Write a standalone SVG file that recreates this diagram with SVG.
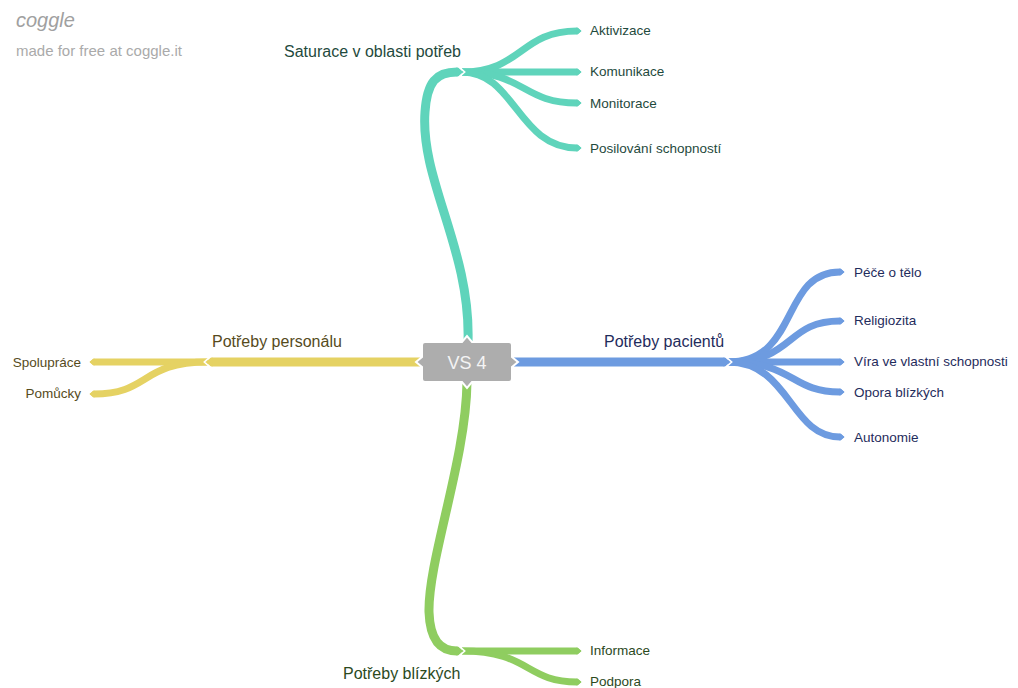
<svg xmlns="http://www.w3.org/2000/svg" width="1018" height="688" viewBox="0 0 1018 688">
  <style>
    .br { fill: none; stroke-linecap: butt; }
    .main { stroke-width: 9; }
    .sub { stroke-width: 7; }
    .teal { stroke: #5fd4bb; }
    .blue { stroke: #6d9be0; }
    .yellow { stroke: #e5d263; }
    .green { stroke: #8fcd60; }
    text { font-family: "Liberation Sans", Arial, sans-serif; }
    .leaf { font-size: 13.5px; }
    .lbl { font-size: 16px; }
  </style>
  <defs>
    <marker id="tip-teal" viewBox="0 -1 2 2" markerWidth="2" markerHeight="2" refX="0" refY="0" orient="auto" overflow="visible">
      <polygon points="-0.05,-0.5 0.15,-0.5 0.7,0 0.15,0.5 -0.05,0.5" fill="#5fd4bb"/>
      <polyline points="0.15,-0.62 0.85,0 0.15,0.62" fill="none" stroke="#fff" stroke-width="0.18"/>
    </marker>
    <marker id="tip-blue" viewBox="0 -1 2 2" markerWidth="2" markerHeight="2" refX="0" refY="0" orient="auto" overflow="visible">
      <polygon points="-0.05,-0.5 0.15,-0.5 0.7,0 0.15,0.5 -0.05,0.5" fill="#6d9be0"/>
      <polyline points="0.15,-0.62 0.85,0 0.15,0.62" fill="none" stroke="#fff" stroke-width="0.18"/>
    </marker>
    <marker id="tip-yellow" viewBox="0 -1 2 2" markerWidth="2" markerHeight="2" refX="0" refY="0" orient="auto" overflow="visible">
      <polygon points="-0.05,-0.5 0.15,-0.5 0.7,0 0.15,0.5 -0.05,0.5" fill="#e5d263"/>
      <polyline points="0.15,-0.62 0.85,0 0.15,0.62" fill="none" stroke="#fff" stroke-width="0.18"/>
    </marker>
    <marker id="tip-green" viewBox="0 -1 2 2" markerWidth="2" markerHeight="2" refX="0" refY="0" orient="auto" overflow="visible">
      <polygon points="-0.05,-0.5 0.15,-0.5 0.7,0 0.15,0.5 -0.05,0.5" fill="#8fcd60"/>
      <polyline points="0.15,-0.62 0.85,0 0.15,0.62" fill="none" stroke="#fff" stroke-width="0.18"/>
    </marker>
  </defs>

  <!-- header -->
  <text x="16" y="27" font-size="20" font-style="italic" fill="#a0a0a0">coggle</text>
  <text x="16" y="56" font-size="15" fill="#aaaaaa">made for free at coggle.it</text>

  <!-- connectors: leaves first, then the main branches over their joints -->
  <g id="connectors">
    <!-- teal leaves -->
    <path class="br sub teal" d="M462,72 C522,72 520,31 577,31" marker-end="url(#tip-teal)"/>
    <path class="br sub teal" d="M462,72 L577,72" marker-end="url(#tip-teal)"/>
    <path class="br sub teal" d="M462,72 C525,72 522,103 577,103" marker-end="url(#tip-teal)"/>
    <path class="br sub teal" d="M462,72 C515,72 518,148 577,148" marker-end="url(#tip-teal)"/>
    <!-- blue leaves -->
    <path class="br sub blue" d="M728,362 C800,362 780,272 840,272" marker-end="url(#tip-blue)"/>
    <path class="br sub blue" d="M728,362 C795,362 785,321 840,321" marker-end="url(#tip-blue)"/>
    <path class="br sub blue" d="M728,362 L840,362" marker-end="url(#tip-blue)"/>
    <path class="br sub blue" d="M728,362 C795,362 790,392 840,392" marker-end="url(#tip-blue)"/>
    <path class="br sub blue" d="M728,362 C790,362 790,437 840,437" marker-end="url(#tip-blue)"/>
    <!-- yellow leaves -->
    <path class="br sub yellow" d="M208,362 L94,362" marker-end="url(#tip-yellow)"/>
    <path class="br sub yellow" d="M208,362 C140,362 150,394 94,394" marker-end="url(#tip-yellow)"/>
    <!-- green leaves -->
    <path class="br sub green" d="M462,651 L577,651" marker-end="url(#tip-green)"/>
    <path class="br sub green" d="M462,651 C530,651 525,682 577,682" marker-end="url(#tip-green)"/>

    <!-- main branches -->
    <path class="br main teal" d="M468,342 C471,250 420,180 425,112 C427,82 436,72 457,72" marker-end="url(#tip-teal)"/>
    <path class="br main blue" d="M514,362 L724,362" marker-end="url(#tip-blue)"/>
    <path class="br main yellow" d="M420,362 L212,362" marker-end="url(#tip-yellow)"/>
    <path class="br main green" d="M467,382 C466,460 428,560 429,612 C430,640 440,651 457,651" marker-end="url(#tip-green)"/>
  </g>

  <!-- central node -->
  <g id="node-vs4">
    <path d="M425,342 L462,342 L467,336 L472,342 L509,342 Q512,342 512,345 L512,357 L518,362 L512,367 L512,379 Q512,382 509,382 L472,382 L467,388 L462,382 L425,382 Q422,382 422,379 L422,367 L416,362 L422,357 L422,345 Q422,342 425,342 Z" fill="#adadad" stroke="#ffffff" stroke-width="2"/>
    <text x="467" y="369" font-size="18" fill="#f4f4f4" text-anchor="middle">VS 4</text>
  </g>

  <!-- branch labels -->
  <g id="node-saturace"><text class="lbl" x="284" y="57" fill="#1f4a3d">Saturace v oblasti potřeb</text></g>
  <g id="node-pacientu"><text class="lbl" x="604" y="347" fill="#1f2c5c">Potřeby pacientů</text></g>
  <g id="node-personalu"><text class="lbl" x="212" y="347" fill="#564b1c">Potřeby personálu</text></g>
  <g id="node-blizkych"><text class="lbl" x="343" y="679" fill="#2b4a1d">Potřeby blízkých</text></g>

  <!-- leaves -->
  <g id="node-aktivizace"><text class="leaf" x="590" y="35" fill="#1f4a3d">Aktivizace</text></g>
  <g id="node-komunikace"><text class="leaf" x="590" y="76" fill="#1f4a3d">Komunikace</text></g>
  <g id="node-monitorace"><text class="leaf" x="590" y="108" fill="#1f4a3d">Monitorace</text></g>
  <g id="node-posilovani"><text class="leaf" x="590" y="153" fill="#1f4a3d">Posilování schopností</text></g>

  <g id="node-pece"><text class="leaf" x="854" y="277" fill="#1f2c5c">Péče o tělo</text></g>
  <g id="node-religiozita"><text class="leaf" x="854" y="325" fill="#1f2c5c">Religiozita</text></g>
  <g id="node-vira"><text class="leaf" x="854" y="366" fill="#1f2c5c">Víra ve vlastní schopnosti</text></g>
  <g id="node-opora"><text class="leaf" x="854" y="397" fill="#1f2c5c">Opora blízkých</text></g>
  <g id="node-autonomie"><text class="leaf" x="854" y="442" fill="#1f2c5c">Autonomie</text></g>

  <g id="node-spoluprace"><text class="leaf" x="81" y="367" fill="#564b1c" text-anchor="end">Spolupráce</text></g>
  <g id="node-pomucky"><text class="leaf" x="81" y="398" fill="#564b1c" text-anchor="end">Pomůcky</text></g>

  <g id="node-informace"><text class="leaf" x="590" y="655" fill="#2b4a1d">Informace</text></g>
  <g id="node-podpora"><text class="leaf" x="590" y="686" fill="#2b4a1d">Podpora</text></g>
</svg>
